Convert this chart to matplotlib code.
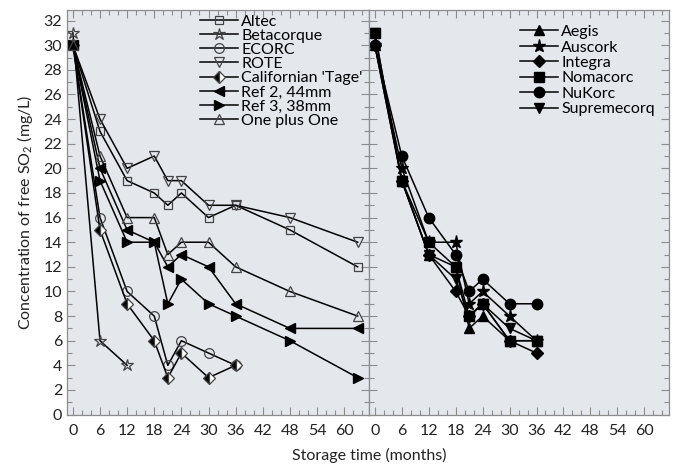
import numpy as np
import matplotlib
matplotlib.use("Agg")
import matplotlib.pyplot as plt
from matplotlib.ticker import MultipleLocator

plt.rcParams["font.family"] = ["Lato", "DejaVu Sans"]
plt.rcParams["mathtext.fontset"] = "custom"
plt.rcParams["mathtext.rm"] = "Lato"

# left panel: long x series (months)
x_long = [0, 6, 12, 18, 21, 24, 30, 36, 48, 63]
x_short = [0, 6, 12, 18, 21, 24, 30, 36]
x_beta = [0, 6, 12]

altec = [30, 23, 19, 18, 17, 18, 16, 17, 15, 12]
betacorque = [31, 6, 4]
ecorc = [30, 16, 10, 8, 4, 6, 5, 4]
rote = [30, 24, 20, 21, 19, 19, 17, 17, 16, 14]
californian = [30, 15, 9, 6, 3, 5, 3, 4]
ref2 = [30, 20, 15, 14, 12, 13, 12, 9, 7, 7]
ref3 = [30, 19, 14, 14, 9, 11, 9, 8, 6, 3]
one_plus_one = [30, 21, 16, 16, 13, 14, 14, 12, 10, 8]

# right panel
x_right = [0, 6, 12, 18, 21, 24, 30, 36]
aegis = [30, 19, 13, 12, 7, 8, 6, 6]
auscork = [30, 20, 14, 14, 9, 10, 8, 6]
integra = [30, 19, 13, 10, 8, 9, 6, 5]
nomacorc = [31, 19, 14, 12, 8, 9, 6, 6]
nukorc = [30, 21, 16, 13, 10, 11, 9, 9]
supremecorq = [31, 19, 13, 11, 8, 9, 7, 6]

bg = "#e4e8ed"
edge = "#444444"
spine_c = "#8c8c8c"

fig = plt.figure(figsize=(6.78, 4.68), dpi=100)
W, H = 678, 468
bottom, top = 414.6, 9.5
axL = fig.add_axes([67 / W, 1 - bottom / H, 302 / W, (bottom - top) / H])
axR = fig.add_axes([369 / W, 1 - bottom / H, 300 / W, (bottom - top) / H])

for ax in (axL, axR):
    ax.set_facecolor(bg)
    ax.set_xlim(-1.3, 65.5)
    ax.set_ylim(0, 32.9)
    ax.xaxis.set_major_locator(MultipleLocator(6))
    ax.xaxis.set_minor_locator(MultipleLocator(2))
    ax.yaxis.set_major_locator(MultipleLocator(2))
    ax.yaxis.set_minor_locator(MultipleLocator(1))
    ax.tick_params(which="both", direction="in", top=True, right=True,
                   color=spine_c, labelsize=11.5, labelcolor="#222222")
    ax.tick_params(which="major", length=6, width=0.8)
    ax.tick_params(which="minor", length=3.5, width=0.8)
    ax.tick_params(axis="x", pad=7)
    ax.set_xticks(range(0, 61, 6))
    for s in ax.spines.values():
        s.set_color(spine_c)
        s.set_linewidth(0.9)

axR.tick_params(axis="y", labelleft=False)

kw = dict(color="black", lw=1.1, markeredgecolor=edge, markeredgewidth=0.9)
axL.plot(x_long, altec, marker="s", ms=5.5, mfc="none", label="Altec", **kw)
axL.plot(x_beta, betacorque, marker="*", ms=9, mfc="none", label="Betacorque", **kw)
axL.plot(x_short, ecorc, marker="o", ms=7, mfc="none", label="ECORC", **kw)
axL.plot(x_long, rote, marker="v", ms=7.5, mfc="none", label="ROTE", **kw)
axL.plot(x_short, californian, marker="D", ms=6.5, fillstyle="left", mfc="black",
         markerfacecoloralt="white", label="Californian 'Tage'", **kw)
axL.plot(x_long, ref2, marker="<", ms=7.5, mfc="black", label="Ref 2, 44mm",
         color="black", lw=1.1, mec="black")
axL.plot(x_long, ref3, marker=">", ms=7.5, mfc="black", label="Ref 3, 38mm",
         color="black", lw=1.1, mec="black")
axL.plot(x_long, one_plus_one, marker="^", ms=7.5, mfc="none", label="One plus One", **kw)

kr = dict(color="black", lw=1.1, mfc="black", mec="black")
axR.plot(x_right, aegis, marker="^", ms=7.5, label="Aegis", **kr)
axR.plot(x_right, auscork, marker="*", ms=9.5, label="Auscork", **kr)
axR.plot(x_right, integra, marker="D", ms=6, label="Integra", **kr)
axR.plot(x_right, nomacorc, marker="s", ms=6.5, label="Nomacorc", **kr)
axR.plot(x_right, nukorc, marker="o", ms=7.5, label="NuKorc", **kr)
axR.plot(x_right, supremecorq, marker="v", ms=7.5, label="Supremecorq", **kr)

legkw = dict(frameon=False, fontsize=11.5, borderpad=0, borderaxespad=0,
             handlelength=2.4, handletextpad=0.2, labelspacing=0.0,
             loc="upper left")
axL.legend(bbox_to_anchor=(0.44, 0.988), **legkw)
legkw["labelspacing"] = 0.08
axR.legend(bbox_to_anchor=(0.503, 0.962), **legkw)

axL.set_ylabel("Concentration of free SO$_\\mathrm{2}$ (mg/L)", fontsize=11.5,
               labelpad=6, color="#222222")
fig.text(369 / W, 1 - 455 / H, "Storage time (months)", ha="center", va="center",
         fontsize=11.5, color="#222222")

fig.savefig("out.png", dpi=100, facecolor="white")
